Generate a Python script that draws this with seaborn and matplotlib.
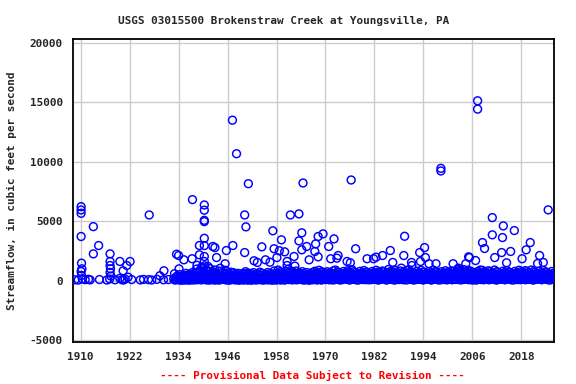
import matplotlib
matplotlib.use("Agg")
import matplotlib.pyplot as plt
import seaborn as sns
import pandas as pd

# ---- individual (sparse / high) measurements: decimal year, cfs ----
event_years = [
    1908.6, 1909.4, 1910.1, 1910.1, 1910.1, 1910.1, 1910.2, 1910.3, 1910.1, 1910.2,
    1910.4, 1911.1, 1911.9, 1912.3, 1913.1, 1913.1, 1914.4, 1914.6, 1916.4, 1917.2,
    1917.2, 1917.2, 1917.3, 1917.2, 1917.4, 1917.1, 1918.4, 1919.6, 1919.6, 1920.1,
    1920.4, 1920.5, 1920.9, 1921.3, 1921.6, 1922.1, 1922.5, 1924.6, 1925.4, 1926.6,
    1926.8, 1927.4, 1928.7, 1929.4, 1930.3, 1930.4, 1931.5, 1932.8,
    1933.0, 1933.5, 1934.0, 1934.1, 1935.3, 1937.3, 1937.4, 1939.1, 1939.1, 1940.3,
    1940.3, 1940.3, 1940.3, 1940.3, 1940.3, 1940.3, 1940.3, 1942.4, 1942.9, 1943.3,
    1945.4, 1945.7, 1938.5, 1939.8, 1941.2, 1944.2,
    1947.2, 1948.2, 1951.1, 1950.2, 1950.5, 1947.3, 1950.2, 1952.5, 1953.3, 1954.4,
    1955.3, 1956.4, 1957.1, 1957.4, 1958.7, 1958.1, 1959.2, 1960.0, 1960.6, 1960.6,
    1961.4, 1962.3, 1962.5, 1963.5, 1963.5, 1964.2, 1964.2, 1964.5, 1965.4, 1966.0,
    1967.4, 1967.6, 1968.2, 1968.2, 1969.4, 1970.8, 1971.3, 1972.1, 1972.8, 1973.1,
    1975.3, 1976.1, 1976.3, 1977.4, 1980.2, 1981.8, 1982.4, 1984.0, 1985.9, 1986.5,
    1988.6, 1989.2, 1989.4, 1991.1, 1991.2, 1993.1, 1993.3, 1994.3, 1994.5, 1995.4,
    1997.1, 1998.3, 1998.3, 2001.3, 2002.6, 2004.4, 2005.1, 2005.3, 2006.8, 2007.3,
    2007.3, 2008.5, 2009.0, 2010.9, 2010.9, 2011.5, 2013.2, 2013.4, 2013.6, 2014.4,
    2015.4, 2016.3, 2018.2, 2019.2, 2020.2, 2022.0, 2022.5, 2023.4, 2024.6, 2026.0,
]
event_flows = [
    80, 60, 6230, 5950, 5670, 3720, 1480, 1000, 780, 450,
    150, 90, 120, 70, 4550, 2260, 2960, 100, 60, 2260,
    1620, 1280, 1000, 700, 400, 150, 80, 1620, 200, 90,
    840, 60, 140, 1280, 300, 1620, 100, 70, 110, 90,
    5530, 60, 120, 420, 80, 840, 100, 150,
    590, 2230, 2120, 1000, 1760, 1850, 6820, 2960, 2180, 6370,
    5930, 5080, 4970, 3570, 2960, 2040, 1620, 2880, 2790, 1950,
    1430, 2540, 1300, 1100, 1200, 1050,
    13500, 10680, 8160, 5530, 4530, 2960, 2370, 1680, 1540, 2850,
    1760, 1560, 4200, 2690, 2520, 1950, 3440, 2430, 1620, 1280,
    5530, 2040, 1230, 5620, 3350, 4030, 2600, 8220, 2880, 1760,
    2460, 3100, 3720, 2010, 3940, 2880, 1850, 3520, 1900, 2120,
    1620, 1510, 8470, 2690, 1850, 1850, 1980, 2120, 2540, 1540,
    1060, 2120, 3740, 1540, 1280, 2370, 1620, 2790, 1950, 1430,
    1430, 9450, 9230, 1430, 1060, 1430, 2010, 1950, 1700, 15130,
    14430, 3210, 2710, 5310, 3860, 1950, 2370, 3630, 4610, 1510,
    2460, 4220, 1850, 2600, 3210, 1450, 2120, 1540, 5960, 280,
]

# ---- routine measurements forming the dense low-flow band (cfs per year) ----
band_first_year = 1933
band_flows = [
    "60 140 330 90 410 210", "80 250 520 120 40 380 160", "110 300 60 450 190 620 90",
    "70 210 480 130 350 50 560 240", "90 400 150 700 260 60 520 310",
    "120 650 240 980 80 430 310 760 180", "150 520 880 300 70 1150 410 640 220",
    "100 730 360 1260 190 540 860 280 60", "130 470 820 240 60 1020 360 610",
    "90 560 310 740 170 420 50 900", "140 380 620 210 70 480 290 810",
    "60 250 440 120 330 700 180", "110 520 300 880 160 60 410 650",
    "80 360 590 200 50 460 720 280", "120 430 260 680 90 350 540 180",
    "70 300 510 140 620 230 40 410", "150 470 280 90 390 610 200 60",
    "100 560 320 760 180 420 60 640", "80 270 490 150 360 620 40 230",
    "130 410 250 680 90 520 320 170", "60 350 580 190 440 110 270 720",
    "90 480 210 620 340 50 400 160", "140 310 530 80 450 230 690 180",
    "70 420 260 610 130 380 500 40", "110 560 300 820 180 440 60 350",
    "90 640 380 900 220 520 140 760 60", "120 480 700 250 600 80 360 540",
    "60 520 330 780 170 440 960 260", "100 610 380 850 210 500 70 720",
    "140 450 680 300 90 560 820 230", "80 390 560 210 640 120 470 300",
    "110 520 760 340 60 600 430 210", "70 430 280 690 150 520 360 40",
    "130 370 580 240 80 460 700 190", "90 560 320 800 180 470 650 60",
    "120 610 400 880 230 540 90 740", "60 480 270 720 150 590 380 210",
    "100 530 340 760 190 460 640 80", "140 420 650 290 80 570 360 830",
    "70 600 380 900 220 520 130 740", "110 470 700 310 60 580 420 200",
    "90 510 320 780 170 450 620 260", "130 560 380 840 210 490 70 690",
    "80 620 410 940 260 540 150 760", "120 450 680 290 70 520 380 600",
    "60 530 350 790 180 460 640 240", "100 580 390 860 220 510 90 720",
    "140 470 700 320 80 590 420 250", "90 520 340 780 190 460 660 120",
    "110 610 380 880 240 520 70 740", "70 440 650 290 150 560 380 820",
    "130 500 330 760 200 470 610 60", "90 620 420 950 260 560 140 780",
    "120 540 780 360 80 640 460 900", "60 480 310 730 170 550 400 240",
    "100 570 360 820 210 490 680 90", "140 510 740 330 70 620 430 880",
    "80 600 390 900 240 520 160 760", "110 460 690 300 60 570 410 230",
    "90 540 350 800 190 470 650 120", "130 580 400 870 230 510 80 720",
    "70 490 720 320 150 600 420 260", "120 530 340 780 200 470 640 60",
    "90 610 380 900 250 540 130 760", "140 470 700 310 80 580 410 220",
    "60 520 330 760 180 450 620 270", "100 580 370 840 220 500 70 700",
    "130 460 680 290 150 560 390 820", "80 540 350 790 200 480 640 110",
    "110 620 410 960 260 550 140 780 880", "70 580 820 390 90 660 460 940",
    "120 500 320 760 180 450 640 230 880", "90 560 360 820 210 490 700 60",
    "140 480 710 330 80 590 420 250", "60 530 340 780 190 460 650 130 900",
    "100 600 390 880 240 520 80 730", "130 450 680 300 160 560 400 840",
    "80 520 330 770 190 470 620 250", "110 610 380 900 230 540 70 760",
    "70 470 700 310 140 580 420 220", "120 530 350 800 200 480 660 90",
    "90 590 370 860 240 510 150 730", "140 460 690 300 80 570 410 260",
    "60 540 340 790 190 460 640 120", "100 600 400 880 230 520 90 760",
    "130 480 720 320 160 590 430 850", "80 520 350 780 200 470 650 240",
    "110 610 390 900 250 540 70 770", "70 460 700 310 140 580 420 230",
    "120 530 340 800 190 480 660 100", "90 590 380 870 240 510 160 740",
    "140 470 690 300 80 560 400 260", "60 520 330 780 180 450 620 210",
]

x_ticks = [1910, 1922, 1934, 1946, 1958, 1970, 1982, 1994, 2006, 2018]
y_ticks = [-5000, 0, 5000, 10000, 15000, 20000]

# ---- assemble table ----
rows_x, rows_y = list(event_years), list(event_flows)
for k, s in enumerate(band_flows):
    vals = [float(v) for v in s.split()]
    n = len(vals)
    for i, v in enumerate(vals):
        rows_x.append(band_first_year + k + (i + 0.5) / n)
        rows_y.append(v)
df = pd.DataFrame({"date": rows_x, "flow": rows_y})

sns.set_style("white")
mono = ["DejaVu Sans Mono", "DejaVu Sans"]
plt.rcParams["font.family"] = mono
plt.rcParams["font.weight"] = "bold"
FS = 7.9

fig = plt.figure(figsize=(5.76, 3.84), dpi=100)
ax = fig.add_axes([72.7 / 576, 1 - 342 / 384, (554.3 - 72.7) / 576, (342 - 39.3) / 384])

sns.scatterplot(data=df, x="date", y="flow", ax=ax, marker="o", s=32,
                facecolors="none", edgecolor="#0000ff", linewidth=1.05,
                zorder=3, clip_on=True, legend=False)

ax.set_xlim(1908.04, 2026.1)
ax.set_ylim(-5150, 20300)
ax.set_xticks(x_ticks)
ax.set_yticks(y_ticks)
ax.set_xticklabels([str(t) for t in x_ticks], fontsize=FS, fontweight="bold")
ax.set_yticklabels([str(t) for t in y_ticks], fontsize=FS, fontweight="bold")
ax.grid(True, color="#cccccc", linewidth=1.0, zorder=0)
ax.set_axisbelow(True)
for sp in ax.spines.values():
    sp.set_color("black")
    sp.set_linewidth(1.3)
ax.tick_params(axis="both", direction="out", length=2.5, width=0.8, color="black", pad=4.5)
ax.set_xlabel("")
ax.set_ylabel("Streamflow, in cubic feet per second", fontsize=FS,
              fontweight="bold", labelpad=9)

fig.text(284 / 576, 1 - 20.5 / 384, "USGS 03015500 Brokenstraw Creek at Youngsville, PA",
         ha="center", va="center", fontsize=FS, fontweight="bold")
fig.text(312.5 / 576, 1 - 375 / 384, "---- Provisional Data Subject to Revision ----",
         ha="center", va="center", fontsize=FS, fontweight="bold", color="red")

fig.savefig("out.png", dpi=100, facecolor="white")
